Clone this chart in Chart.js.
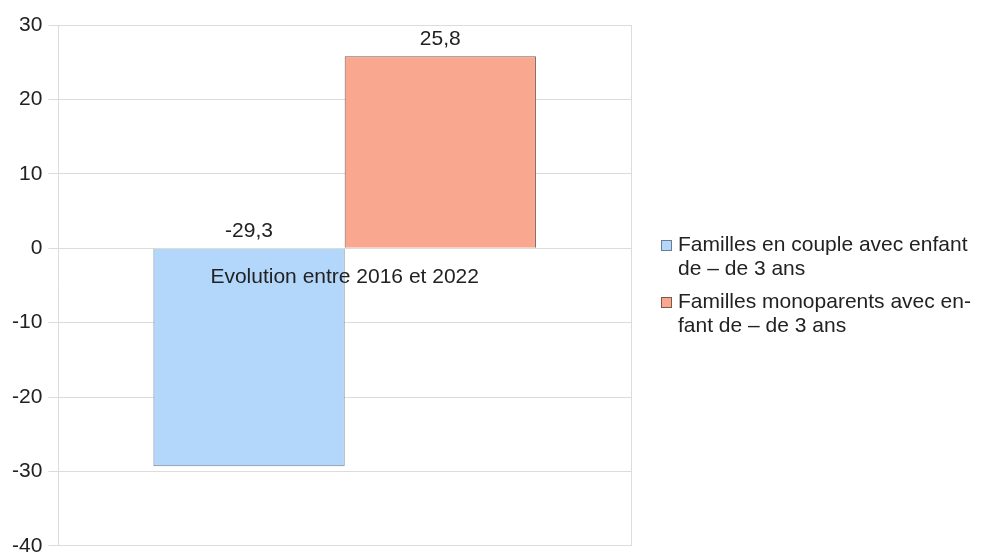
<!DOCTYPE html>
<html lang="fr">
<head>
  <meta charset="UTF-8" />
  <title>Evolution entre 2016 et 2022</title>
  <script src="https://cdn.jsdelivr.net/npm/chart.js"></script>
  <style>
    html, body { margin: 0; padding: 0; background: #fff; }
    #wrap { width: 984px; height: 555px; }
  </style>
</head>
<body>
  <div id="wrap"><canvas id="graphique"></canvas></div>

  <script>
    const categories = ["Evolution entre 2016 et 2022"];
    const seriesLabels = [
      ["Familles en couple avec enfant", "de \u2013 de 3 ans"],
      ["Familles monoparents avec en-", "fant de \u2013 de 3 ans"]
    ];
    const couple = [-29.3];
    const monoparents = [25.8];
    const yTicks = [30, 20, 10, 0, -10, -20, -30, -40];

    const police = "'Liberation Sans', Arial, sans-serif";
    const fmt = v => String(v).replace('.', ',');

    // étiquettes de valeur + libellé de catégorie posé sous la ligne du zéro
    const etiquettes = {
      id: 'etiquettes',
      afterDatasetsDraw(chart) {
        const ctx = chart.ctx;
        const y = chart.scales.y, x = chart.scales.x;
        const zero = y.getPixelForValue(0);
        ctx.save();
        ctx.font = "21px " + police;
        ctx.fillStyle = '#222';
        ctx.textAlign = 'center';
        ctx.textBaseline = 'middle';
        chart.data.datasets.forEach((ds, i) => {
          chart.getDatasetMeta(i).data.forEach((bar, j) => {
            const v = ds.data[j];
            const haut = Math.min(y.getPixelForValue(v), zero);
            ctx.fillText(fmt(v), bar.x, haut - 17);
          });
        });
        categories.forEach((c, j) => {
          ctx.fillText(c, x.getPixelForValue(j), zero + 29);
        });
        ctx.restore();
      }
    };

    // légende à droite, libellés sur deux lignes
    const legende = {
      id: 'legende',
      afterDraw(chart) {
        const ctx = chart.ctx;
        const x0 = chart.chartArea.right + 30;
        const ligne = 24;
        let y0 = 245;
        ctx.save();
        ctx.font = "21px " + police;
        ctx.textAlign = 'left';
        ctx.textBaseline = 'middle';
        chart.data.datasets.forEach((ds, i) => {
          ctx.fillStyle = ds.backgroundColor;
          ctx.strokeStyle = ds.borderColor;
          ctx.lineWidth = 1;
          ctx.fillRect(x0 + 0.5, y0 - 4.5, 10, 10);
          ctx.strokeRect(x0 + 0.5, y0 - 4.5, 10, 10);
          ctx.fillStyle = '#222';
          seriesLabels[i].forEach((t, k) => ctx.fillText(t, x0 + 17, y0 + k * ligne));
          y0 += seriesLabels[i].length * ligne + 9;
        });
        ctx.restore();
      }
    };

    new Chart(document.getElementById('graphique'), {
      type: 'bar',
      data: {
        labels: categories,
        datasets: [
          { label: seriesLabels[0].join(' '), data: couple, backgroundColor: '#b3d7fb', borderColor: '#6a7d8f', borderWidth: 1 },
          { label: seriesLabels[1].join(' '), data: monoparents, backgroundColor: '#f9a88f', borderColor: '#7a5a50', borderWidth: 1 }
        ]
      },
      options: {
        responsive: true,
        maintainAspectRatio: false,
        animation: false,
        layout: { padding: { top: 25, bottom: 9, left: 6, right: 0 } },
        datasets: { bar: { categoryPercentage: 0.668, barPercentage: 1 } },
        scales: {
          x: { display: false },
          y: {
            min: -40, max: 30,
            afterBuildTicks: s => { s.ticks = yTicks.map(v => ({ value: v })); },
            ticks: { font: { size: 21, family: police, lineHeight: 0.3 }, color: '#222', padding: 6, callback: v => fmt(v) },
            grid: { color: '#dcdcdc', tickLength: 10 },
            border: { color: '#dcdcdc' }
          },
          y2: {
            position: 'right',
            ticks: { display: false },
            grid: { display: false },
            border: { display: true, color: '#dcdcdc' },
            afterFit: s => { s.width = 353; }
          }
        },
        plugins: {
          tooltip: { enabled: false },
          legend: { display: false }
        }
      },
      plugins: [etiquettes, legende]
    });
  </script>
</body>
</html>
